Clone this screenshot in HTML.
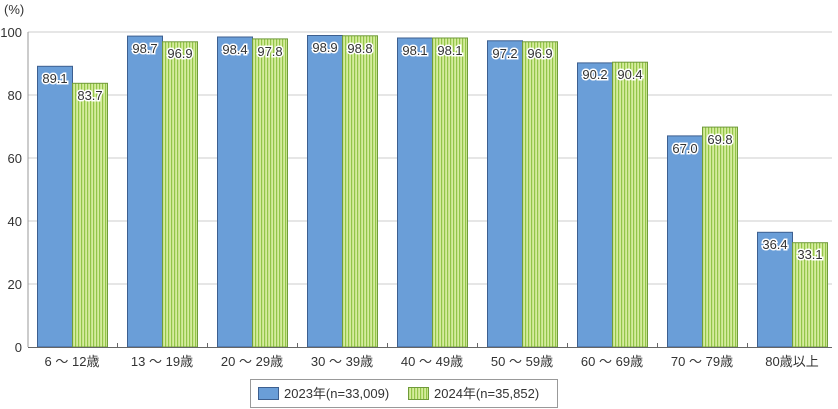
<!DOCTYPE html>
<html><head><meta charset="utf-8"><style>
body{margin:0;background:#fff}
svg{display:block;font-family:"Liberation Sans","Noto Sans CJK JP",sans-serif}
.l{font-size:13px;fill:#333;stroke:#fff;stroke-width:3px;paint-order:stroke;text-anchor:middle}
.ax{font-size:13px;fill:#333}
.c{font-size:13px;fill:#333;text-anchor:middle}
.b{fill:#6a9ed8;stroke:#3d5f8f}
.g{fill:url(#g);stroke:#6f9a3a}
</style></head><body>
<svg width="838" height="409" viewBox="0 0 838 409">
<defs>
<pattern id="g" width="3" height="10" patternUnits="userSpaceOnUse">
<rect width="3" height="10" fill="#d6ec9e"/><rect width="1.2" height="10" fill="#93c548"/>
</pattern>
</defs>
<text x="4" y="14" class="ax">(%)</text>
<g stroke="#ccc" stroke-width="1">
<line x1="28" y1="32" x2="832" y2="32"/>
<line x1="28" y1="95" x2="832" y2="95"/>
<line x1="28" y1="158" x2="832" y2="158"/>
<line x1="28" y1="221" x2="832" y2="221"/>
<line x1="28" y1="284" x2="832" y2="284"/>
</g>
<g class="ax" text-anchor="end">
<text x="22" y="37">100</text><text x="22" y="100">80</text><text x="22" y="163">60</text>
<text x="22" y="226">40</text><text x="22" y="289">20</text><text x="22" y="352">0</text>
</g>
<g>
<rect class="b" x="37.5" y="66.3" width="35" height="280.7"/><rect class="g" x="72.5" y="83.3" width="35" height="263.7"/>
<rect class="b" x="127.5" y="36.1" width="35" height="310.9"/><rect class="g" x="162.5" y="41.8" width="35" height="305.2"/>
<rect class="b" x="217.5" y="37" width="35" height="310"/><rect class="g" x="252.5" y="38.9" width="35" height="308.1"/>
<rect class="b" x="307.5" y="35.5" width="35" height="311.5"/><rect class="g" x="342.5" y="35.8" width="35" height="311.2"/>
<rect class="b" x="397.5" y="38" width="35" height="309"/><rect class="g" x="432.5" y="38" width="35" height="309"/>
<rect class="b" x="487.5" y="40.8" width="35" height="306.2"/><rect class="g" x="522.5" y="41.8" width="35" height="305.2"/>
<rect class="b" x="577.5" y="62.9" width="35" height="284.1"/><rect class="g" x="612.5" y="62.2" width="35" height="284.8"/>
<rect class="b" x="667.5" y="135.9" width="35" height="211.1"/><rect class="g" x="702.5" y="127.1" width="35" height="219.9"/>
<rect class="b" x="757.5" y="232.3" width="35" height="114.7"/><rect class="g" x="792.5" y="242.7" width="35" height="104.3"/>
</g>
<g>
<text class="l" x="55" y="83">89.1</text><text class="l" x="90" y="100">83.7</text>
<text class="l" x="145" y="53">98.7</text><text class="l" x="180" y="58">96.9</text>
<text class="l" x="235" y="54">98.4</text><text class="l" x="270" y="56">97.8</text>
<text class="l" x="325" y="52">98.9</text><text class="l" x="360" y="53">98.8</text>
<text class="l" x="415" y="55">98.1</text><text class="l" x="450" y="55">98.1</text>
<text class="l" x="505" y="58">97.2</text><text class="l" x="540" y="58">96.9</text>
<text class="l" x="595" y="79">90.2</text><text class="l" x="630" y="79">90.4</text>
<text class="l" x="685" y="153">67.0</text><text class="l" x="720" y="144">69.8</text>
<text class="l" x="775" y="249">36.4</text><text class="l" x="810" y="259">33.1</text>
</g>
<line x1="28" y1="347.5" x2="832" y2="347.5" stroke="#666"/>
<line x1="28" y1="32" x2="28" y2="347" stroke="#999"/>
<g stroke="#666">
<line x1="117.5" y1="343" x2="117.5" y2="348"/><line x1="207.5" y1="343" x2="207.5" y2="348"/>
<line x1="297.5" y1="343" x2="297.5" y2="348"/><line x1="387.5" y1="343" x2="387.5" y2="348"/>
<line x1="477.5" y1="343" x2="477.5" y2="348"/><line x1="567.5" y1="343" x2="567.5" y2="348"/>
<line x1="657.5" y1="343" x2="657.5" y2="348"/><line x1="747.5" y1="343" x2="747.5" y2="348"/>
</g>
<g class="c">
<text x="72" y="366">6 ～ 12歳</text><text x="162" y="366">13 ～ 19歳</text>
<text x="252" y="366">20 ～ 29歳</text><text x="342" y="366">30 ～ 39歳</text>
<text x="432" y="366">40 ～ 49歳</text><text x="522" y="366">50 ～ 59歳</text>
<text x="612" y="366">60 ～ 69歳</text><text x="702" y="366">70 ～ 79歳</text>
<text x="792" y="366">80歳以上</text>
</g>
<rect x="250.5" y="379.5" width="307" height="28" fill="#fff" stroke="#999"/>
<rect x="258.5" y="387.5" width="20" height="12" fill="#6a9ed8" stroke="#3d5f8f"/>
<text x="284" y="398" class="ax">2023年(n=33,009)</text>
<rect x="408.5" y="387.5" width="20" height="12" fill="url(#g)" stroke="#6f9a3a"/>
<text x="434" y="398" class="ax">2024年(n=35,852)</text>
</svg>
</body></html>
